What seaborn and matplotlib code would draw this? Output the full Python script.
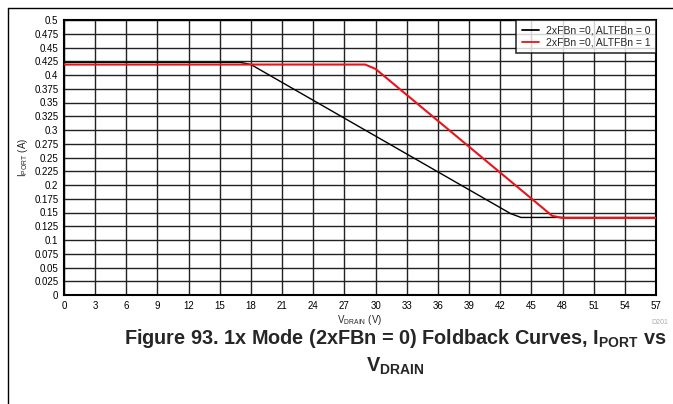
import matplotlib
matplotlib.use("Agg")
import matplotlib.pyplot as plt
from matplotlib.lines import Line2D
import numpy as np
import pandas as pd
import seaborn as sns

# Foldback curves: port current limit vs drain voltage
vdrain_alt0 = [0, 17, 18, 43, 44, 57]
iport_alt0 = [0.423, 0.423, 0.419, 0.148, 0.141, 0.141]
vdrain_alt1 = [0, 29, 30, 47, 48, 57]
iport_alt1 = [0.419, 0.419, 0.411, 0.144, 0.140, 0.140]
series_names = ["2xFBn =0, ALTFBn = 0", "2xFBn =0, ALTFBn = 1"]
x_ticks = list(range(0, 58, 3))
y_ticks = [round(0.025 * i, 3) for i in range(21)]

df = pd.concat([
    pd.DataFrame({"V": vdrain_alt0, "I": iport_alt0, "series": series_names[0]}),
    pd.DataFrame({"V": vdrain_alt1, "I": iport_alt1, "series": series_names[1]}),
])

sns.set_style("white")
plt.rcParams["font.family"] = ["Liberation Sans", "DejaVu Sans"]
plt.rcParams["mathtext.fontset"] = "custom"
plt.rcParams["mathtext.rm"] = "Liberation Sans"
plt.rcParams["mathtext.bf"] = "Liberation Sans:bold"

fig = plt.figure(figsize=(6.73, 4.04), dpi=100)
ax = fig.add_axes([64 / 673, 1 - 295 / 404, 592 / 673, 275 / 404])

sns.lineplot(data=df, x="V", y="I", hue="series", hue_order=series_names,
             palette=["black", "#e8141b"], sort=False, estimator=None,
             ax=ax, legend=True)
for line, lw in zip(ax.lines, [1.0, 1.5]):
    line.set_linewidth(lw)
    line.set_zorder(3)

ax.set_xlim(0, 57)
ax.set_ylim(0, 0.5)
ax.set_xticks(x_ticks)
ax.set_xticklabels([str(t) for t in x_ticks])
ax.set_yticks(y_ticks)
ax.set_yticklabels([("%g" % t) for t in y_ticks])
ax.tick_params(axis="both", length=0, labelsize=7, pad=4, colors="black")
ax.grid(True, color="#222222", linewidth=1.0)
ax.set_axisbelow(True)
for sp in ax.spines.values():
    sp.set_visible(True)
    sp.set_color("black")
    sp.set_linewidth(1.5)

ax.set_xlabel(r"V$_{\mathrm{DRAIN}}$ (V)", fontsize=7, labelpad=2)
ax.set_ylabel(r"I$_{\mathrm{PORT}}$ (A)", fontsize=7, labelpad=3)

leg = ax.legend(loc="upper right", fontsize=7.5, frameon=True, fancybox=False,
                handlelength=1.7, handletextpad=0.6, borderaxespad=0,
                borderpad=0.55, labelspacing=0.15, title=None)
leg.get_frame().set_edgecolor("black")
leg.get_frame().set_linewidth(1.2)
for h in leg.get_lines():
    h.set_linewidth(1.3)

fig.text(660 / 673, 1 - 322 / 404, "D201", fontsize=5, color="#aaaaaa",
         ha="center", va="center")

fig.text(395 / 673, 1 - 338 / 404,
         r"Figure 93. 1x Mode (2xFBn = 0) Foldback Curves, I$_{\mathbf{PORT}}$ vs",
         fontsize=14.3, fontweight="bold", ha="center", va="center")
fig.text(395 / 673, 1 - 366 / 404, r"V$_{\mathbf{DRAIN}}$",
         fontsize=14.3, fontweight="bold", ha="center", va="center")

# page frame lines
fig.add_artist(Line2D([8 / 673, 1], [1 - 8 / 404, 1 - 8 / 404],
                      transform=fig.transFigure, color="black", linewidth=1))
fig.add_artist(Line2D([8 / 673, 8 / 673], [0, 1 - 8 / 404],
                      transform=fig.transFigure, color="black", linewidth=1))

fig.savefig("out.png", dpi=100)
